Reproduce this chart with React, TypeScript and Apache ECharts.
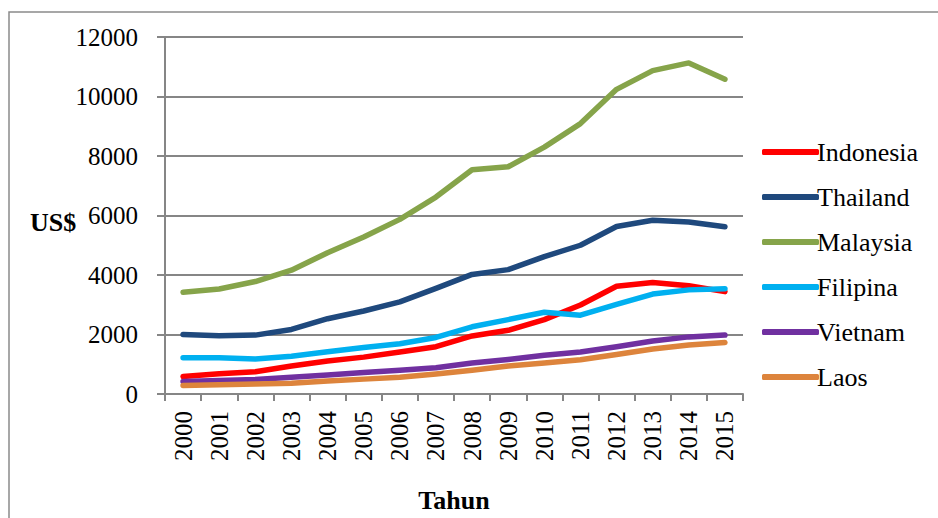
import React, { useEffect, useRef } from "react";
import * as echarts from "echarts";

// GDP per capita (US$), 2000–2015
const years = ["2000","2001","2002","2003","2004","2005","2006","2007","2008","2009","2010","2011","2012","2013","2014","2015"];
const indonesia = [590, 680, 750, 940, 1110, 1240, 1410, 1590, 1950, 2140, 2500, 2990, 3620, 3750, 3640, 3440];
const thailand = [2000, 1960, 1980, 2170, 2530, 2790, 3095, 3550, 4020, 4180, 4620, 5000, 5630, 5840, 5780, 5620];
const malaysia = [3420, 3530, 3780, 4160, 4750, 5280, 5870, 6620, 7540, 7640, 8300, 9090, 10240, 10870, 11130, 10580];
const filipina = [1220, 1220, 1180, 1270, 1420, 1560, 1690, 1900, 2260, 2500, 2750, 2650, 3010, 3360, 3500, 3540];
const vietnam = [420, 450, 490, 560, 640, 720, 800, 880, 1040, 1160, 1300, 1410, 1590, 1780, 1920, 1980];
const laos = [285, 315, 335, 360, 440, 500, 560, 670, 800, 940, 1040, 1150, 1330, 1510, 1650, 1730];
const yTicks = [0, 2000, 4000, 6000, 8000, 10000, 12000];

const seriesDefs = [
  { name: "Indonesia", data: indonesia, color: "#FF0000" },
  { name: "Thailand", data: thailand, color: "#1F497D" },
  { name: "Malaysia", data: malaysia, color: "#86A44A" },
  { name: "Filipina", data: filipina, color: "#00B0F0" },
  { name: "Vietnam", data: vietnam, color: "#7030A0" },
  { name: "Laos", data: laos, color: "#DD843C" },
];

const FONT = "Liberation Serif";
const AXIS_GRAY = "#868686";

export default function App() {
  const ref = useRef<HTMLDivElement>(null);

  useEffect(() => {
    if (!ref.current) return;
    const chart = echarts.init(ref.current, null, { renderer: "svg" });
    chart.setOption({
      animation: false,
      backgroundColor: "#ffffff",
      textStyle: { fontFamily: FONT },
      grid: { left: 165, right: 195, top: 37, bottom: 114, containLabel: false },
      xAxis: {
        type: "category",
        data: years,
        boundaryGap: true,
        name: "Tahun",
        nameLocation: "middle",
        nameGap: 93,
        nameTextStyle: { fontFamily: FONT, fontSize: 26, fontWeight: "bold", color: "#000" },
        axisLine: { lineStyle: { color: AXIS_GRAY, width: 2 } },
        axisTick: { show: true, length: 7, alignWithLabel: false, lineStyle: { color: AXIS_GRAY, width: 2 } },
        axisLabel: { rotate: 90, margin: 17, fontFamily: FONT, fontSize: 25, color: "#000", interval: 0 },
        splitLine: { show: false },
      },
      yAxis: {
        type: "value",
        min: yTicks[0],
        max: yTicks[yTicks.length - 1],
        interval: 2000,
        axisLine: { show: true, lineStyle: { color: AXIS_GRAY, width: 2 } },
        axisTick: { show: true, length: 8, lineStyle: { color: AXIS_GRAY, width: 2 } },
        axisLabel: {
          margin: 27,
          fontFamily: FONT,
          fontSize: 25,
          color: "#000",
          formatter: (v: number) => String(v),
        },
        splitLine: { show: true, lineStyle: { color: AXIS_GRAY, width: 2 } },
      },
      legend: {
        orient: "vertical",
        left: 757,
        top: 134,
        icon: "roundRect",
        itemWidth: 57,
        itemHeight: 6,
        itemGap: 19,
        data: seriesDefs.map((s) => s.name),
        textStyle: { fontFamily: FONT, fontSize: 26, color: "#000", padding: [0, 0, 0, -7] },
      },
      graphic: [
        {
          type: "rect",
          z: -1,
          shape: { x: 9, y: 12, width: 1000, height: 1000 },
          style: { fill: "none", stroke: "#8a8a8a", lineWidth: 1.5 },
          silent: true,
        },
        {
          type: "text",
          x: 30,
          y: 222,
          style: {
            text: "US$",
            fontFamily: FONT,
            fontSize: 26,
            fontWeight: "bold",
            fill: "#000",
            verticalAlign: "middle",
            align: "left",
          },
        },
      ],
      series: seriesDefs.map((s) => ({
        name: s.name,
        type: "line",
        data: s.data,
        symbol: "none",
        color: s.color,
        lineStyle: { width: 5.5, color: s.color, cap: "round", join: "round" },
      })),
    });
    return () => chart.dispose();
  }, []);

  return (
    <div
      ref={ref}
      style={{ position: "fixed", left: 0, top: 0, width: 938, height: 518 }}
    />
  );
}
